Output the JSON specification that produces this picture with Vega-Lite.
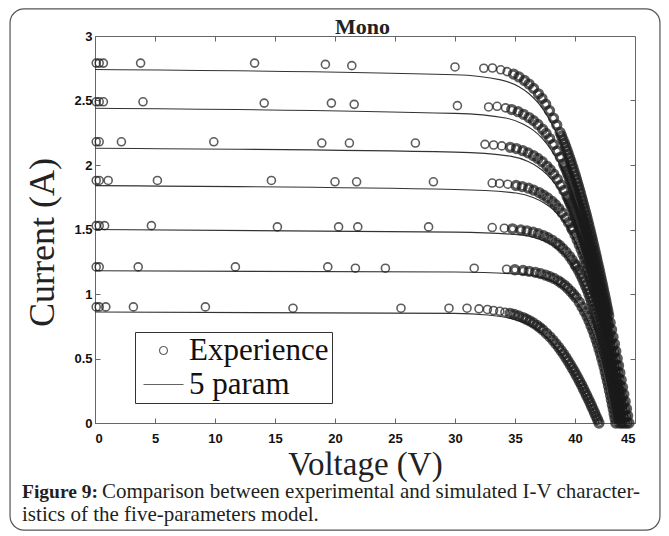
{
"$schema":"https://vega.github.io/schema/vega-lite/v6.json",
"width":540,"height":387,
"autosize":{"type":"none"},
"padding":{"left":95,"top":36,"right":34,"bottom":113},
"background":"white",
"config":{
 "view":{"stroke":"#666","strokeWidth":1},
 "axis":{"grid":false,"domainColor":"#666","tickColor":"#666","labelFont":"Liberation Sans","labelFontWeight":"bold","labelFontSize":13,"labelColor":"#111","titleFont":"Liberation Serif","titleFontWeight":"normal","titleColor":"#222"}
},
"datasets":{
"exp":[
{"c":1,"v":0.1,"i":2.79},{"c":1,"v":0.35,"i":2.79},{"c":1,"v":0.7,"i":2.79},{"c":1,"v":3.8,"i":2.79},{"c":1,"v":13.3,"i":2.79},{"c":1,"v":19.2,"i":2.78},{"c":1,"v":21.4,"i":2.77},{"c":1,"v":30.0,"i":2.76},{"c":1,"v":32.4,"i":2.75},
{"c":1,"v":33.12,"i":2.752},{"c":1,"v":33.81,"i":2.738},{"c":1,"v":34.34,"i":2.724},{"c":1,"v":34.88,"i":2.705},{"c":1,"v":35.33,"i":2.683},{"c":1,"v":35.79,"i":2.655},{"c":1,"v":36.17,"i":2.627},{"c":1,"v":36.55,"i":2.594},{"c":1,"v":36.95,"i":2.552},{"c":1,"v":37.25,"i":2.516},{"c":1,"v":37.56,"i":2.471},{"c":1,"v":37.88,"i":2.421},{"c":1,"v":38.21,"i":2.363},{"c":1,"v":38.48,"i":2.310},{"c":1,"v":38.76,"i":2.252},
{"c":1,"v":38.88,"i":2.224},{"c":1,"v":39.00,"i":2.196},{"c":1,"v":39.12,"i":2.168},{"c":1,"v":39.23,"i":2.141},{"c":1,"v":39.34,"i":2.113},{"c":1,"v":39.44,"i":2.085},{"c":1,"v":39.55,"i":2.057},{"c":1,"v":39.65,"i":2.029},{"c":1,"v":39.74,"i":2.002},{"c":1,"v":39.84,"i":1.974},{"c":1,"v":39.93,"i":1.946},{"c":1,"v":40.03,"i":1.918},{"c":1,"v":40.12,"i":1.890},{"c":1,"v":40.20,"i":1.863},{"c":1,"v":40.29,"i":1.835},{"c":1,"v":40.38,"i":1.807},{"c":1,"v":40.46,"i":1.779},{"c":1,"v":40.54,"i":1.751},{"c":1,"v":40.62,"i":1.724},{"c":1,"v":40.70,"i":1.696},{"c":1,"v":40.78,"i":1.668},{"c":1,"v":40.86,"i":1.640},{"c":1,"v":40.94,"i":1.612},{"c":1,"v":41.01,"i":1.585},{"c":1,"v":41.09,"i":1.557},{"c":1,"v":41.16,"i":1.529},{"c":1,"v":41.24,"i":1.501},{"c":1,"v":41.31,"i":1.473},{"c":1,"v":41.38,"i":1.446},{"c":1,"v":41.45,"i":1.418},{"c":1,"v":41.52,"i":1.390},{"c":1,"v":41.59,"i":1.362},{"c":1,"v":41.66,"i":1.334},{"c":1,"v":41.73,"i":1.307},{"c":1,"v":41.80,"i":1.279},{"c":1,"v":41.86,"i":1.251},{"c":1,"v":41.93,"i":1.223},{"c":1,"v":42.00,"i":1.195},{"c":1,"v":42.06,"i":1.168},{"c":1,"v":42.13,"i":1.140},{"c":1,"v":42.19,"i":1.112},{"c":1,"v":42.26,"i":1.084},{"c":1,"v":42.32,"i":1.056},{"c":1,"v":42.38,"i":1.029},{"c":1,"v":42.45,"i":1.001},{"c":1,"v":42.51,"i":0.973},{"c":1,"v":42.57,"i":0.945},{"c":1,"v":42.63,"i":0.917},{"c":1,"v":42.69,"i":0.890},{"c":1,"v":42.75,"i":0.862},{"c":1,"v":42.81,"i":0.834},{"c":1,"v":42.93,"i":0.778},{"c":1,"v":43.05,"i":0.723},{"c":1,"v":43.17,"i":0.667},{"c":1,"v":43.29,"i":0.612},{"c":1,"v":43.40,"i":0.556},{"c":1,"v":43.52,"i":0.500},{"c":1,"v":43.63,"i":0.445},{"c":1,"v":43.74,"i":0.389},{"c":1,"v":43.85,"i":0.334},{"c":1,"v":43.96,"i":0.278},{"c":1,"v":44.07,"i":0.222},{"c":1,"v":44.18,"i":0.167},{"c":1,"v":44.29,"i":0.111},{"c":1,"v":44.39,"i":0.056},{"c":1,"v":44.50,"i":0},
{"c":2,"v":0.1,"i":2.49},{"c":2,"v":0.35,"i":2.49},{"c":2,"v":0.7,"i":2.49},{"c":2,"v":4.0,"i":2.49},{"c":2,"v":14.1,"i":2.48},{"c":2,"v":19.7,"i":2.48},{"c":2,"v":21.6,"i":2.47},{"c":2,"v":30.2,"i":2.46},{"c":2,"v":32.8,"i":2.45},
{"c":2,"v":33.51,"i":2.455},{"c":2,"v":34.21,"i":2.443},{"c":2,"v":34.73,"i":2.430},{"c":2,"v":35.26,"i":2.413},{"c":2,"v":35.71,"i":2.393},{"c":2,"v":36.17,"i":2.368},{"c":2,"v":36.54,"i":2.344},{"c":2,"v":36.91,"i":2.314},{"c":2,"v":37.30,"i":2.277},{"c":2,"v":37.59,"i":2.244},{"c":2,"v":37.89,"i":2.205},{"c":2,"v":38.20,"i":2.160},{"c":2,"v":38.52,"i":2.108},{"c":2,"v":38.78,"i":2.061},{"c":2,"v":39.05,"i":2.009},
{"c":2,"v":39.16,"i":1.984},{"c":2,"v":39.28,"i":1.959},{"c":2,"v":39.39,"i":1.934},{"c":2,"v":39.49,"i":1.910},{"c":2,"v":39.59,"i":1.885},{"c":2,"v":39.69,"i":1.860},{"c":2,"v":39.79,"i":1.835},{"c":2,"v":39.88,"i":1.810},{"c":2,"v":39.98,"i":1.786},{"c":2,"v":40.07,"i":1.761},{"c":2,"v":40.15,"i":1.736},{"c":2,"v":40.24,"i":1.711},{"c":2,"v":40.32,"i":1.686},{"c":2,"v":40.41,"i":1.662},{"c":2,"v":40.49,"i":1.637},{"c":2,"v":40.57,"i":1.612},{"c":2,"v":40.64,"i":1.587},{"c":2,"v":40.72,"i":1.562},{"c":2,"v":40.80,"i":1.538},{"c":2,"v":40.87,"i":1.513},{"c":2,"v":40.94,"i":1.488},{"c":2,"v":41.01,"i":1.463},{"c":2,"v":41.09,"i":1.438},{"c":2,"v":41.16,"i":1.414},{"c":2,"v":41.22,"i":1.389},{"c":2,"v":41.29,"i":1.364},{"c":2,"v":41.36,"i":1.339},{"c":2,"v":41.43,"i":1.314},{"c":2,"v":41.49,"i":1.290},{"c":2,"v":41.56,"i":1.265},{"c":2,"v":41.62,"i":1.240},{"c":2,"v":41.69,"i":1.215},{"c":2,"v":41.75,"i":1.190},{"c":2,"v":41.81,"i":1.166},{"c":2,"v":41.87,"i":1.141},{"c":2,"v":41.93,"i":1.116},{"c":2,"v":41.99,"i":1.091},{"c":2,"v":42.05,"i":1.066},{"c":2,"v":42.11,"i":1.042},{"c":2,"v":42.17,"i":1.017},{"c":2,"v":42.23,"i":0.992},{"c":2,"v":42.29,"i":0.967},{"c":2,"v":42.35,"i":0.942},{"c":2,"v":42.41,"i":0.918},{"c":2,"v":42.46,"i":0.893},{"c":2,"v":42.52,"i":0.868},{"c":2,"v":42.57,"i":0.843},{"c":2,"v":42.63,"i":0.818},{"c":2,"v":42.68,"i":0.794},{"c":2,"v":42.74,"i":0.769},{"c":2,"v":42.79,"i":0.744},{"c":2,"v":42.90,"i":0.694},{"c":2,"v":43.01,"i":0.645},{"c":2,"v":43.11,"i":0.595},{"c":2,"v":43.22,"i":0.546},{"c":2,"v":43.32,"i":0.496},{"c":2,"v":43.42,"i":0.446},{"c":2,"v":43.52,"i":0.397},{"c":2,"v":43.62,"i":0.347},{"c":2,"v":43.72,"i":0.298},{"c":2,"v":43.82,"i":0.248},{"c":2,"v":43.92,"i":0.198},{"c":2,"v":44.02,"i":0.149},{"c":2,"v":44.11,"i":0.099},{"c":2,"v":44.21,"i":0.050},{"c":2,"v":44.30,"i":0},
{"c":3,"v":0.1,"i":2.18},{"c":3,"v":0.35,"i":2.18},{"c":3,"v":2.2,"i":2.18},{"c":3,"v":9.9,"i":2.18},{"c":3,"v":18.9,"i":2.17},{"c":3,"v":21.2,"i":2.17},{"c":3,"v":26.7,"i":2.17},{"c":3,"v":32.5,"i":2.16},
{"c":3,"v":33.22,"i":2.155},{"c":3,"v":33.90,"i":2.148},{"c":3,"v":34.60,"i":2.137},{"c":3,"v":35.12,"i":2.127},{"c":3,"v":35.65,"i":2.111},{"c":3,"v":36.09,"i":2.094},{"c":3,"v":36.54,"i":2.072},{"c":3,"v":36.90,"i":2.051},{"c":3,"v":37.27,"i":2.025},{"c":3,"v":37.65,"i":1.992},{"c":3,"v":37.93,"i":1.964},{"c":3,"v":38.23,"i":1.929},{"c":3,"v":38.53,"i":1.890},{"c":3,"v":38.83,"i":1.845},{"c":3,"v":39.08,"i":1.803},{"c":3,"v":39.33,"i":1.758},
{"c":3,"v":39.44,"i":1.736},{"c":3,"v":39.55,"i":1.714},{"c":3,"v":39.65,"i":1.693},{"c":3,"v":39.75,"i":1.671},{"c":3,"v":39.85,"i":1.649},{"c":3,"v":39.94,"i":1.628},{"c":3,"v":40.03,"i":1.606},{"c":3,"v":40.12,"i":1.584},{"c":3,"v":40.21,"i":1.562},{"c":3,"v":40.29,"i":1.541},{"c":3,"v":40.37,"i":1.519},{"c":3,"v":40.45,"i":1.497},{"c":3,"v":40.53,"i":1.476},{"c":3,"v":40.61,"i":1.454},{"c":3,"v":40.68,"i":1.432},{"c":3,"v":40.76,"i":1.411},{"c":3,"v":40.83,"i":1.389},{"c":3,"v":40.90,"i":1.367},{"c":3,"v":40.97,"i":1.345},{"c":3,"v":41.04,"i":1.324},{"c":3,"v":41.10,"i":1.302},{"c":3,"v":41.17,"i":1.280},{"c":3,"v":41.23,"i":1.259},{"c":3,"v":41.30,"i":1.237},{"c":3,"v":41.36,"i":1.215},{"c":3,"v":41.42,"i":1.194},{"c":3,"v":41.48,"i":1.172},{"c":3,"v":41.54,"i":1.150},{"c":3,"v":41.60,"i":1.128},{"c":3,"v":41.66,"i":1.107},{"c":3,"v":41.72,"i":1.085},{"c":3,"v":41.78,"i":1.063},{"c":3,"v":41.84,"i":1.042},{"c":3,"v":41.89,"i":1.020},{"c":3,"v":41.95,"i":0.998},{"c":3,"v":42.00,"i":0.977},{"c":3,"v":42.06,"i":0.955},{"c":3,"v":42.11,"i":0.933},{"c":3,"v":42.17,"i":0.911},{"c":3,"v":42.22,"i":0.890},{"c":3,"v":42.27,"i":0.868},{"c":3,"v":42.32,"i":0.846},{"c":3,"v":42.38,"i":0.825},{"c":3,"v":42.43,"i":0.803},{"c":3,"v":42.48,"i":0.781},{"c":3,"v":42.53,"i":0.760},{"c":3,"v":42.58,"i":0.738},{"c":3,"v":42.63,"i":0.716},{"c":3,"v":42.68,"i":0.694},{"c":3,"v":42.73,"i":0.673},{"c":3,"v":42.77,"i":0.651},{"c":3,"v":42.87,"i":0.608},{"c":3,"v":42.96,"i":0.564},{"c":3,"v":43.06,"i":0.521},{"c":3,"v":43.15,"i":0.477},{"c":3,"v":43.24,"i":0.434},{"c":3,"v":43.33,"i":0.391},{"c":3,"v":43.42,"i":0.347},{"c":3,"v":43.51,"i":0.304},{"c":3,"v":43.60,"i":0.260},{"c":3,"v":43.68,"i":0.217},{"c":3,"v":43.77,"i":0.174},{"c":3,"v":43.85,"i":0.130},{"c":3,"v":43.94,"i":0.087},{"c":3,"v":44.02,"i":0.043},{"c":3,"v":44.10,"i":0},
{"c":4,"v":0.1,"i":1.88},{"c":4,"v":0.35,"i":1.88},{"c":4,"v":1.1,"i":1.88},{"c":4,"v":5.2,"i":1.88},{"c":4,"v":14.7,"i":1.88},{"c":4,"v":20.0,"i":1.87},{"c":4,"v":21.8,"i":1.87},{"c":4,"v":28.2,"i":1.87},{"c":4,"v":33.1,"i":1.86},
{"c":4,"v":33.71,"i":1.857},{"c":4,"v":34.40,"i":1.851},{"c":4,"v":35.09,"i":1.842},{"c":4,"v":35.60,"i":1.833},{"c":4,"v":36.13,"i":1.820},{"c":4,"v":36.56,"i":1.805},{"c":4,"v":37.01,"i":1.786},{"c":4,"v":37.36,"i":1.767},{"c":4,"v":37.72,"i":1.745},{"c":4,"v":38.09,"i":1.717},{"c":4,"v":38.37,"i":1.692},{"c":4,"v":38.65,"i":1.662},{"c":4,"v":38.93,"i":1.629},{"c":4,"v":39.23,"i":1.590},{"c":4,"v":39.46,"i":1.554},{"c":4,"v":39.70,"i":1.515},
{"c":4,"v":39.80,"i":1.496},{"c":4,"v":40.00,"i":1.459},{"c":4,"v":40.18,"i":1.421},{"c":4,"v":40.35,"i":1.384},{"c":4,"v":40.51,"i":1.346},{"c":4,"v":40.66,"i":1.309},{"c":4,"v":40.81,"i":1.272},{"c":4,"v":40.94,"i":1.234},{"c":4,"v":41.08,"i":1.197},{"c":4,"v":41.20,"i":1.159},{"c":4,"v":41.32,"i":1.122},{"c":4,"v":41.44,"i":1.085},{"c":4,"v":41.55,"i":1.047},{"c":4,"v":41.66,"i":1.010},{"c":4,"v":41.77,"i":0.972},{"c":4,"v":41.87,"i":0.935},{"c":4,"v":41.97,"i":0.898},{"c":4,"v":42.07,"i":0.860},{"c":4,"v":42.17,"i":0.823},{"c":4,"v":42.26,"i":0.785},{"c":4,"v":42.35,"i":0.748},{"c":4,"v":42.44,"i":0.711},{"c":4,"v":42.53,"i":0.673},{"c":4,"v":42.62,"i":0.636},{"c":4,"v":42.70,"i":0.598},{"c":4,"v":42.78,"i":0.561},{"c":4,"v":42.87,"i":0.524},{"c":4,"v":42.95,"i":0.486},{"c":4,"v":43.03,"i":0.449},{"c":4,"v":43.10,"i":0.411},{"c":4,"v":43.18,"i":0.374},{"c":4,"v":43.26,"i":0.337},{"c":4,"v":43.33,"i":0.299},{"c":4,"v":43.41,"i":0.262},{"c":4,"v":43.48,"i":0.224},{"c":4,"v":43.55,"i":0.187},{"c":4,"v":43.62,"i":0.150},{"c":4,"v":43.69,"i":0.112},{"c":4,"v":43.76,"i":0.075},{"c":4,"v":43.83,"i":0.037},{"c":4,"v":43.90,"i":0},
{"c":5,"v":0.1,"i":1.53},{"c":5,"v":0.35,"i":1.53},{"c":5,"v":0.8,"i":1.53},{"c":5,"v":4.7,"i":1.53},{"c":5,"v":15.2,"i":1.52},{"c":5,"v":20.3,"i":1.52},{"c":5,"v":21.9,"i":1.52},{"c":5,"v":27.8,"i":1.52},{"c":5,"v":33.1,"i":1.515},
{"c":5,"v":34.11,"i":1.510},{"c":5,"v":34.79,"i":1.505},{"c":5,"v":35.48,"i":1.497},{"c":5,"v":35.99,"i":1.490},{"c":5,"v":36.51,"i":1.479},{"c":5,"v":36.94,"i":1.467},{"c":5,"v":37.38,"i":1.452},{"c":5,"v":37.73,"i":1.436},{"c":5,"v":38.08,"i":1.418},{"c":5,"v":38.44,"i":1.395},{"c":5,"v":38.71,"i":1.376},{"c":5,"v":38.98,"i":1.351},{"c":5,"v":39.26,"i":1.324},{"c":5,"v":39.54,"i":1.292},{"c":5,"v":39.76,"i":1.263},{"c":5,"v":39.99,"i":1.231},
{"c":5,"v":40.08,"i":1.216},{"c":5,"v":40.27,"i":1.186},{"c":5,"v":40.44,"i":1.155},{"c":5,"v":40.60,"i":1.125},{"c":5,"v":40.74,"i":1.094},{"c":5,"v":40.88,"i":1.064},{"c":5,"v":41.02,"i":1.034},{"c":5,"v":41.14,"i":1.003},{"c":5,"v":41.26,"i":0.973},{"c":5,"v":41.37,"i":0.942},{"c":5,"v":41.48,"i":0.912},{"c":5,"v":41.59,"i":0.882},{"c":5,"v":41.69,"i":0.851},{"c":5,"v":41.79,"i":0.821},{"c":5,"v":41.88,"i":0.790},{"c":5,"v":41.97,"i":0.760},{"c":5,"v":42.06,"i":0.730},{"c":5,"v":42.15,"i":0.699},{"c":5,"v":42.23,"i":0.669},{"c":5,"v":42.31,"i":0.638},{"c":5,"v":42.39,"i":0.608},{"c":5,"v":42.47,"i":0.578},{"c":5,"v":42.55,"i":0.547},{"c":5,"v":42.62,"i":0.517},{"c":5,"v":42.69,"i":0.486},{"c":5,"v":42.76,"i":0.456},{"c":5,"v":42.83,"i":0.426},{"c":5,"v":42.90,"i":0.395},{"c":5,"v":42.97,"i":0.365},{"c":5,"v":43.04,"i":0.334},{"c":5,"v":43.10,"i":0.304},{"c":5,"v":43.17,"i":0.274},{"c":5,"v":43.23,"i":0.243},{"c":5,"v":43.29,"i":0.213},{"c":5,"v":43.35,"i":0.182},{"c":5,"v":43.41,"i":0.152},{"c":5,"v":43.47,"i":0.122},{"c":5,"v":43.53,"i":0.091},{"c":5,"v":43.59,"i":0.061},{"c":5,"v":43.64,"i":0.030},{"c":5,"v":43.70,"i":0},
{"c":6,"v":0.1,"i":1.21},{"c":6,"v":0.35,"i":1.21},{"c":6,"v":3.6,"i":1.21},{"c":6,"v":11.7,"i":1.21},{"c":6,"v":19.4,"i":1.21},{"c":6,"v":21.7,"i":1.20},{"c":6,"v":24.2,"i":1.20},{"c":6,"v":31.6,"i":1.20},
{"c":6,"v":34.30,"i":1.192},{"c":6,"v":34.99,"i":1.188},{"c":6,"v":35.67,"i":1.182},{"c":6,"v":36.18,"i":1.176},{"c":6,"v":36.70,"i":1.168},{"c":6,"v":37.13,"i":1.158},{"c":6,"v":37.56,"i":1.146},{"c":6,"v":37.90,"i":1.134},{"c":6,"v":38.25,"i":1.120},{"c":6,"v":38.60,"i":1.102},{"c":6,"v":38.86,"i":1.086},{"c":6,"v":39.13,"i":1.067},{"c":6,"v":39.39,"i":1.045},{"c":6,"v":39.66,"i":1.020},{"c":6,"v":39.88,"i":0.997},{"c":6,"v":40.09,"i":0.972},
{"c":6,"v":40.36,"i":0.936},{"c":6,"v":40.59,"i":0.900},{"c":6,"v":40.80,"i":0.864},{"c":6,"v":41.00,"i":0.828},{"c":6,"v":41.17,"i":0.792},{"c":6,"v":41.33,"i":0.756},{"c":6,"v":41.48,"i":0.720},{"c":6,"v":41.62,"i":0.684},{"c":6,"v":41.76,"i":0.648},{"c":6,"v":41.88,"i":0.612},{"c":6,"v":42.00,"i":0.576},{"c":6,"v":42.11,"i":0.540},{"c":6,"v":42.22,"i":0.504},{"c":6,"v":42.33,"i":0.468},{"c":6,"v":42.43,"i":0.432},{"c":6,"v":42.52,"i":0.396},{"c":6,"v":42.61,"i":0.360},{"c":6,"v":42.70,"i":0.324},{"c":6,"v":42.79,"i":0.288},{"c":6,"v":42.87,"i":0.252},{"c":6,"v":42.96,"i":0.216},{"c":6,"v":43.03,"i":0.180},{"c":6,"v":43.11,"i":0.144},{"c":6,"v":43.19,"i":0.108},{"c":6,"v":43.26,"i":0.072},{"c":6,"v":43.33,"i":0.036},{"c":6,"v":43.40,"i":0},
{"c":7,"v":0.1,"i":0.90},{"c":7,"v":0.35,"i":0.90},{"c":7,"v":0.9,"i":0.90},{"c":7,"v":3.2,"i":0.90},{"c":7,"v":9.2,"i":0.90},{"c":7,"v":16.5,"i":0.89},{"c":7,"v":25.5,"i":0.89},{"c":7,"v":29.5,"i":0.89},{"c":7,"v":31.0,"i":0.89},{"c":7,"v":32.0,"i":0.885},{"c":7,"v":32.7,"i":0.88},
{"c":7,"v":33.21,"i":0.872},{"c":7,"v":33.73,"i":0.866},{"c":7,"v":34.16,"i":0.859},{"c":7,"v":34.59,"i":0.850},{"c":7,"v":34.95,"i":0.841},{"c":7,"v":35.31,"i":0.830},{"c":7,"v":35.67,"i":0.817},{"c":7,"v":35.95,"i":0.805},{"c":7,"v":36.24,"i":0.791},{"c":7,"v":36.53,"i":0.775},{"c":7,"v":36.83,"i":0.757},{"c":7,"v":37.07,"i":0.740},{"c":7,"v":37.32,"i":0.721},
{"c":7,"v":37.63,"i":0.694},{"c":7,"v":37.91,"i":0.668},{"c":7,"v":38.17,"i":0.641},{"c":7,"v":38.41,"i":0.614},{"c":7,"v":38.64,"i":0.587},{"c":7,"v":38.85,"i":0.561},{"c":7,"v":39.05,"i":0.534},{"c":7,"v":39.24,"i":0.507},{"c":7,"v":39.42,"i":0.481},{"c":7,"v":39.60,"i":0.454},{"c":7,"v":39.77,"i":0.427},{"c":7,"v":39.93,"i":0.401},{"c":7,"v":40.09,"i":0.374},{"c":7,"v":40.25,"i":0.347},{"c":7,"v":40.40,"i":0.320},{"c":7,"v":40.55,"i":0.294},{"c":7,"v":40.69,"i":0.267},{"c":7,"v":40.83,"i":0.240},{"c":7,"v":40.97,"i":0.214},{"c":7,"v":41.11,"i":0.187},{"c":7,"v":41.24,"i":0.160},{"c":7,"v":41.37,"i":0.134},{"c":7,"v":41.50,"i":0.107},{"c":7,"v":41.63,"i":0.080},{"c":7,"v":41.75,"i":0.053},{"c":7,"v":41.88,"i":0.027},{"c":7,"v":42.00,"i":0}
],
"mod":[
{"c":1,"v":0,"i":2.74},{"c":1,"v":30,"i":2.70},{"c":1,"v":33.81,"i":2.660},{"c":1,"v":35.33,"i":2.606},{"c":1,"v":36.17,"i":2.552},{"c":1,"v":36.95,"i":2.479},{"c":1,"v":37.56,"i":2.400},{"c":1,"v":38.21,"i":2.295},{"c":1,"v":38.76,"i":2.187},{"c":1,"v":39.44,"i":2.025},{"c":1,"v":39.93,"i":1.890},{"c":1,"v":40.38,"i":1.755},{"c":1,"v":40.78,"i":1.620},{"c":1,"v":41.16,"i":1.485},{"c":1,"v":41.52,"i":1.350},{"c":1,"v":41.86,"i":1.215},{"c":1,"v":42.19,"i":1.080},{"c":1,"v":42.51,"i":0.945},{"c":1,"v":42.81,"i":0.810},{"c":1,"v":43.17,"i":0.648},{"c":1,"v":43.52,"i":0.486},{"c":1,"v":43.85,"i":0.324},{"c":1,"v":44.18,"i":0.162},{"c":1,"v":44.50,"i":0},
{"c":2,"v":0,"i":2.44},{"c":2,"v":30,"i":2.40},{"c":2,"v":34.21,"i":2.364},{"c":2,"v":35.71,"i":2.316},{"c":2,"v":36.54,"i":2.268},{"c":2,"v":37.30,"i":2.203},{"c":2,"v":37.89,"i":2.134},{"c":2,"v":38.52,"i":2.040},{"c":2,"v":39.05,"i":1.944},{"c":2,"v":39.69,"i":1.800},{"c":2,"v":40.15,"i":1.680},{"c":2,"v":40.57,"i":1.560},{"c":2,"v":40.94,"i":1.440},{"c":2,"v":41.29,"i":1.320},{"c":2,"v":41.62,"i":1.200},{"c":2,"v":41.93,"i":1.080},{"c":2,"v":42.23,"i":0.960},{"c":2,"v":42.52,"i":0.840},{"c":2,"v":42.79,"i":0.720},{"c":2,"v":43.11,"i":0.576},{"c":2,"v":43.42,"i":0.432},{"c":2,"v":43.72,"i":0.288},{"c":2,"v":44.02,"i":0.144},{"c":2,"v":44.30,"i":0},
{"c":3,"v":0,"i":2.13},{"c":3,"v":30,"i":2.10},{"c":3,"v":34.60,"i":2.069},{"c":3,"v":36.09,"i":2.027},{"c":3,"v":36.90,"i":1.985},{"c":3,"v":37.65,"i":1.928},{"c":3,"v":38.23,"i":1.867},{"c":3,"v":38.83,"i":1.785},{"c":3,"v":39.33,"i":1.701},{"c":3,"v":39.94,"i":1.575},{"c":3,"v":40.37,"i":1.470},{"c":3,"v":40.76,"i":1.365},{"c":3,"v":41.10,"i":1.260},{"c":3,"v":41.42,"i":1.155},{"c":3,"v":41.72,"i":1.050},{"c":3,"v":42.00,"i":0.945},{"c":3,"v":42.27,"i":0.840},{"c":3,"v":42.53,"i":0.735},{"c":3,"v":42.77,"i":0.630},{"c":3,"v":43.06,"i":0.504},{"c":3,"v":43.33,"i":0.378},{"c":3,"v":43.60,"i":0.252},{"c":3,"v":43.85,"i":0.126},{"c":3,"v":44.10,"i":0},
{"c":4,"v":0,"i":1.84},{"c":4,"v":30,"i":1.81},{"c":4,"v":35.09,"i":1.783},{"c":4,"v":36.56,"i":1.747},{"c":4,"v":37.36,"i":1.710},{"c":4,"v":38.09,"i":1.662},{"c":4,"v":38.65,"i":1.609},{"c":4,"v":39.23,"i":1.539},{"c":4,"v":39.70,"i":1.466},{"c":4,"v":40.18,"i":1.376},{"c":4,"v":40.66,"i":1.267},{"c":4,"v":41.08,"i":1.158},{"c":4,"v":41.32,"i":1.086},{"c":4,"v":41.55,"i":1.014},{"c":4,"v":41.87,"i":0.905},{"c":4,"v":42.07,"i":0.833},{"c":4,"v":42.35,"i":0.724},{"c":4,"v":42.53,"i":0.652},{"c":4,"v":42.78,"i":0.543},{"c":4,"v":43.03,"i":0.434},{"c":4,"v":43.26,"i":0.326},{"c":4,"v":43.48,"i":0.217},{"c":4,"v":43.69,"i":0.109},{"c":4,"v":43.90,"i":0},
{"c":5,"v":0,"i":1.50},{"c":5,"v":30,"i":1.48},{"c":5,"v":35.48,"i":1.458},{"c":5,"v":36.94,"i":1.428},{"c":5,"v":37.73,"i":1.399},{"c":5,"v":38.44,"i":1.359},{"c":5,"v":38.98,"i":1.316},{"c":5,"v":39.54,"i":1.258},{"c":5,"v":39.99,"i":1.199},{"c":5,"v":40.44,"i":1.125},{"c":5,"v":40.88,"i":1.036},{"c":5,"v":41.26,"i":0.947},{"c":5,"v":41.48,"i":0.888},{"c":5,"v":41.69,"i":0.829},{"c":5,"v":41.97,"i":0.740},{"c":5,"v":42.15,"i":0.681},{"c":5,"v":42.39,"i":0.592},{"c":5,"v":42.55,"i":0.533},{"c":5,"v":42.76,"i":0.444},{"c":5,"v":42.97,"i":0.355},{"c":5,"v":43.17,"i":0.266},{"c":5,"v":43.35,"i":0.178},{"c":5,"v":43.53,"i":0.089},{"c":5,"v":43.70,"i":0},
{"c":6,"v":0,"i":1.18},{"c":6,"v":30,"i":1.17},{"c":6,"v":35.67,"i":1.152},{"c":6,"v":37.13,"i":1.129},{"c":6,"v":37.90,"i":1.106},{"c":6,"v":38.60,"i":1.074},{"c":6,"v":39.13,"i":1.040},{"c":6,"v":39.66,"i":0.995},{"c":6,"v":40.09,"i":0.948},{"c":6,"v":40.59,"i":0.878},{"c":6,"v":41.00,"i":0.807},{"c":6,"v":41.33,"i":0.737},{"c":6,"v":41.62,"i":0.667},{"c":6,"v":41.88,"i":0.597},{"c":6,"v":42.11,"i":0.527},{"c":6,"v":42.33,"i":0.456},{"c":6,"v":42.52,"i":0.386},{"c":6,"v":42.70,"i":0.316},{"c":6,"v":42.87,"i":0.246},{"c":6,"v":43.03,"i":0.176},{"c":6,"v":43.19,"i":0.105},{"c":6,"v":43.33,"i":0.035},{"c":6,"v":43.40,"i":0},
{"c":7,"v":0,"i":0.86},{"c":7,"v":30,"i":0.85},{"c":7,"v":32.71,"i":0.837},{"c":7,"v":34.16,"i":0.820},{"c":7,"v":34.95,"i":0.803},{"c":7,"v":35.67,"i":0.780},{"c":7,"v":36.24,"i":0.756},{"c":7,"v":36.83,"i":0.723},{"c":7,"v":37.32,"i":0.689},{"c":7,"v":37.91,"i":0.638},{"c":7,"v":38.41,"i":0.587},{"c":7,"v":38.85,"i":0.536},{"c":7,"v":39.24,"i":0.485},{"c":7,"v":39.60,"i":0.434},{"c":7,"v":39.93,"i":0.383},{"c":7,"v":40.25,"i":0.332},{"c":7,"v":40.55,"i":0.281},{"c":7,"v":40.83,"i":0.230},{"c":7,"v":41.11,"i":0.179},{"c":7,"v":41.37,"i":0.128},{"c":7,"v":41.63,"i":0.077},{"c":7,"v":41.88,"i":0.026},{"c":7,"v":42.00,"i":0}
]
},
"layer":[
 {"layer":[
  {"data":{"values":[{}]},"mark":{"type":"rect","filled":false,"color":"#555","strokeWidth":1.2,"cornerRadius":14},
   "encoding":{"x":{"datum":-7.08,"type":"quantitative","scale":{"domain":[0,45],"nice":false}},"x2":{"datum":47.08},"y":{"datum":3.21,"type":"quantitative","scale":{"domain":[0,3],"nice":false}},"y2":{"datum":-0.83}}},
  {"data":{"name":"mod"},"mark":{"type":"line","color":"#333","strokeWidth":1.1,"interpolate":"monotone"},
   "encoding":{
    "x":{"field":"v","type":"quantitative","scale":{"domain":[0,45],"nice":false},"axis":{"title":"Voltage (V)","titleFontSize":33,"values":[0,5,10,15,20,25,30,35,40,45],"tickSize":-5,"labelPadding":14,"titlePadding":3,"format":"~g"}},
    "y":{"field":"i","type":"quantitative","scale":{"domain":[0,3],"nice":false},"axis":{"title":"Current (A)","titleFontSize":36,"titleY":206,"values":[0,0.5,1,1.5,2,2.5,3],"tickSize":-5,"labelPadding":8,"titlePadding":12,"format":"~g"}},
    "detail":{"field":"c"}}},
  {"data":{"name":"exp"},"mark":{"type":"point","filled":false,"size":64,"color":"#1a1a1a"},
   "encoding":{
    "x":{"field":"v","type":"quantitative","scale":{"domain":[0,45],"nice":false}},
    "y":{"field":"i","type":"quantitative","scale":{"domain":[0,3],"nice":false}},
    "strokeWidth":{"condition":{"test":"datum.v > 34.5","value":3.3},"value":1.6},
    "shape":{"datum":"Experience","type":"nominal","scale":{"domain":["Experience","5 param"],"range":["circle","M-5,0H5"]},
     "legend":{"title":null,"orient":"none","legendX":40,"legendY":296,"direction":"vertical","labelFont":"Liberation Serif","labelFontSize":31,"labelColor":"#111","symbolSize":64,"symbolStrokeWidth":1.2,"symbolStrokeColor":"#222","symbolFillColor":"transparent","symbolOffset":10,"labelOffset":10,"padding":3,"rowPadding":2,"strokeColor":"#333","fillColor":"white","labelLimit":300}}}},
  {"data":{"values":[{}]},"mark":{"type":"text","text":"Mono","font":"Liberation Serif","fontSize":22,"fontWeight":"bold","align":"center","baseline":"alphabetic","color":"#222"},
   "encoding":{"x":{"datum":22.3,"type":"quantitative","scale":{"domain":[0,45],"nice":false}},"y":{"datum":3.016,"type":"quantitative","scale":{"domain":[0,3],"nice":false}}}},
  {"data":{"values":[{}]},"mark":{"type":"text","text":"Figure 9:","font":"Liberation Serif","fontSize":19.5,"fontWeight":"bold","align":"left","baseline":"alphabetic","color":"#231f20"},
   "encoding":{"x":{"datum":-6.08,"type":"quantitative","scale":{"domain":[0,45],"nice":false}},"y":{"datum":-0.585,"type":"quantitative","scale":{"domain":[0,3],"nice":false}}}},
  {"data":{"values":[{}]},"mark":{"type":"text","text":"Comparison between experimental and simulated I-V character-","font":"Liberation Serif","fontSize":21,"align":"left","baseline":"alphabetic","color":"#231f20"},
   "encoding":{"x":{"datum":0.58,"type":"quantitative","scale":{"domain":[0,45],"nice":false}},"y":{"datum":-0.585,"type":"quantitative","scale":{"domain":[0,3],"nice":false}}}},
  {"data":{"values":[{}]},"mark":{"type":"text","text":"istics of the five-parameters model.","font":"Liberation Serif","fontSize":21,"align":"left","baseline":"alphabetic","color":"#231f20"},
   "encoding":{"x":{"datum":-6.08,"type":"quantitative","scale":{"domain":[0,45],"nice":false}},"y":{"datum":-0.76,"type":"quantitative","scale":{"domain":[0,3],"nice":false}}}}
 ]},
 {"data":{"values":[{}]},"mark":{"type":"point","opacity":0},
  "encoding":{
   "x":{"datum":10,"type":"quantitative","scale":{"domain":[0,45],"nice":false},"axis":{"orient":"top","labels":false,"domain":false,"tickSize":-5,"title":null,"values":[5,10,15,20,25,30,35,40]}},
   "y":{"datum":1,"type":"quantitative","scale":{"domain":[0,3],"nice":false},"axis":{"orient":"right","labels":false,"domain":false,"tickSize":-5,"title":null,"values":[0.5,1,1.5,2,2.5]}}}}
],
"resolve":{"axis":{"x":"independent","y":"independent"}}
}
